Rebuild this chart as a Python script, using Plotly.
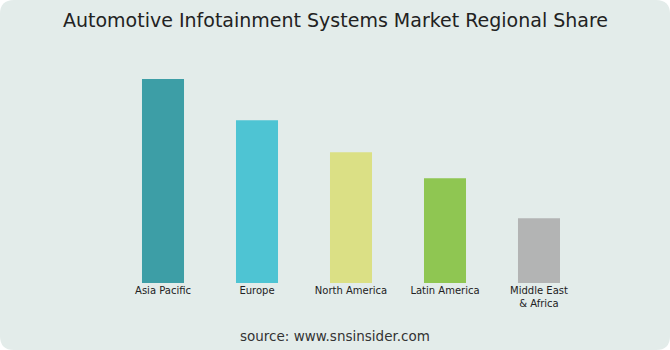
import plotly.graph_objects as go

regions = ["Asia Pacific", "Europe", "North America", "Latin America", "Middle East<br>& Africa"]
shares = [30.6, 24.4, 19.6, 15.7, 9.7]
colors = ["#3d9ea6", "#4ec4d3", "#dbe085", "#8fc652", "#b3b4b4"]

W, H = 670, 350
BG = "#e3ecea"

fig = go.Figure(go.Bar(x=regions, y=shares, marker=dict(color=colors, line=dict(width=0))))

# rounded background panel
r = 14
def px(x): return x / W
def py(y): return 1 - y / H
path = (f"M {px(r)},{py(0)} L {px(W-r)},{py(0)} Q {px(W)},{py(0)} {px(W)},{py(r)} "
        f"L {px(W)},{py(H-r)} Q {px(W)},{py(H)} {px(W-r)},{py(H)} "
        f"L {px(r)},{py(H)} Q {px(0)},{py(H)} {px(0)},{py(H-r)} "
        f"L {px(0)},{py(r)} Q {px(0)},{py(0)} {px(r)},{py(0)} Z")

fig.update_layout(
    width=W, height=H,
    margin=dict(l=0, r=0, t=0, b=0),
    paper_bgcolor="white", plot_bgcolor="rgba(0,0,0,0)",
    showlegend=False,
    bargap=0.553,
    font=dict(family="DejaVu Sans", color="#222"),
    shapes=[dict(type="path", path=path, xref="paper", yref="paper",
                 fillcolor=BG, line=dict(width=0), layer="below")],
    xaxis=dict(domain=[116 / W, 586 / W], showgrid=False, zeroline=False, showline=False,
               ticks="", tickfont=dict(size=10, color="#222"), fixedrange=True),
    yaxis=dict(domain=[1 - 283 / H, 1 - 79 / H], range=[0, 30.6], visible=False, fixedrange=True),
    annotations=[
        dict(text="Automotive Infotainment Systems Market Regional Share", x=0.5, y=1 - 20 / H,
             xref="paper", yref="paper", showarrow=False, xanchor="center", yanchor="middle",
             font=dict(size=19, color="#222")),
        dict(text="source: www.snsinsider.com", x=0.5, y=1 - 336 / H,
             xref="paper", yref="paper", showarrow=False, xanchor="center", yanchor="middle",
             font=dict(size=13.5, color="#333")),
    ],
)

fig.write_html("out.html")
